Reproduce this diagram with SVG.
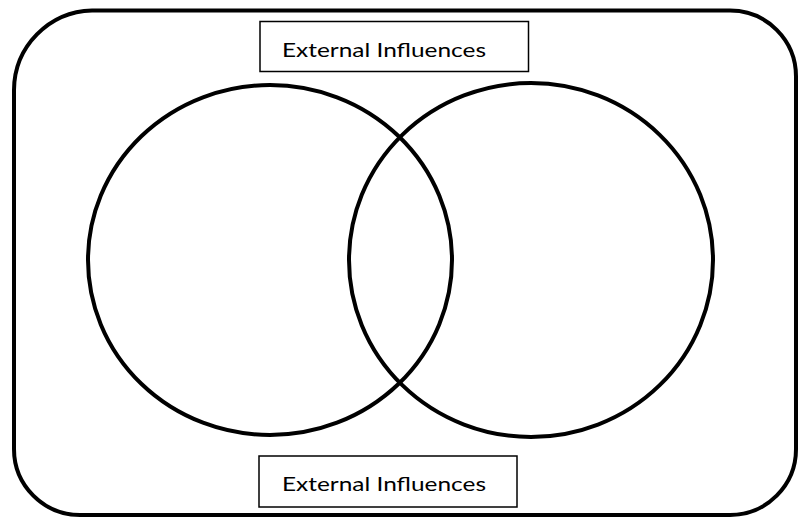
<svg xmlns="http://www.w3.org/2000/svg" width="800" height="519" viewBox="0 0 800 519">
  <style>
    .frame { fill: none; stroke: #000; stroke-width: 4; }
    .set { fill: none; stroke: #000; stroke-width: 4; }
    .label-box { fill: #fff; stroke: #000; stroke-width: 1.5; }
    .label { font-family: "Lato", "Open Sans", "Liberation Sans", sans-serif; font-size: 19px; fill: #000; }
  </style>
  <rect width="800" height="519" fill="#fff"/>
  <!-- outer boundary -->
  <g id="environment">
    <path class="frame" d="M 92 10.5 H 730 A 66 66 0 0 1 796 76.5 V 449 A 66 66 0 0 1 730 515 H 80 A 66 66 0 0 1 14 449 V 90 A 80 80 0 0 1 92 10.5 Z"/>
  </g>
  <!-- two overlapping sets -->
  <g id="set-left">
    <ellipse class="set" cx="270" cy="260" rx="182" ry="175"/>
  </g>
  <g id="set-right">
    <ellipse class="set" cx="531" cy="260" rx="182" ry="177"/>
  </g>
  <g id="connectors"></g>
  <!-- labels -->
  <g id="influences-top">
    <rect class="label-box" x="260" y="21.5" width="268.5" height="50"/>
    <text class="label" x="282" y="57" textLength="204" lengthAdjust="spacingAndGlyphs">External Influences</text>
  </g>
  <g id="influences-bottom">
    <rect class="label-box" x="259" y="456" width="258" height="51"/>
    <text class="label" x="282" y="491" textLength="204" lengthAdjust="spacingAndGlyphs">External Influences</text>
  </g>
</svg>
